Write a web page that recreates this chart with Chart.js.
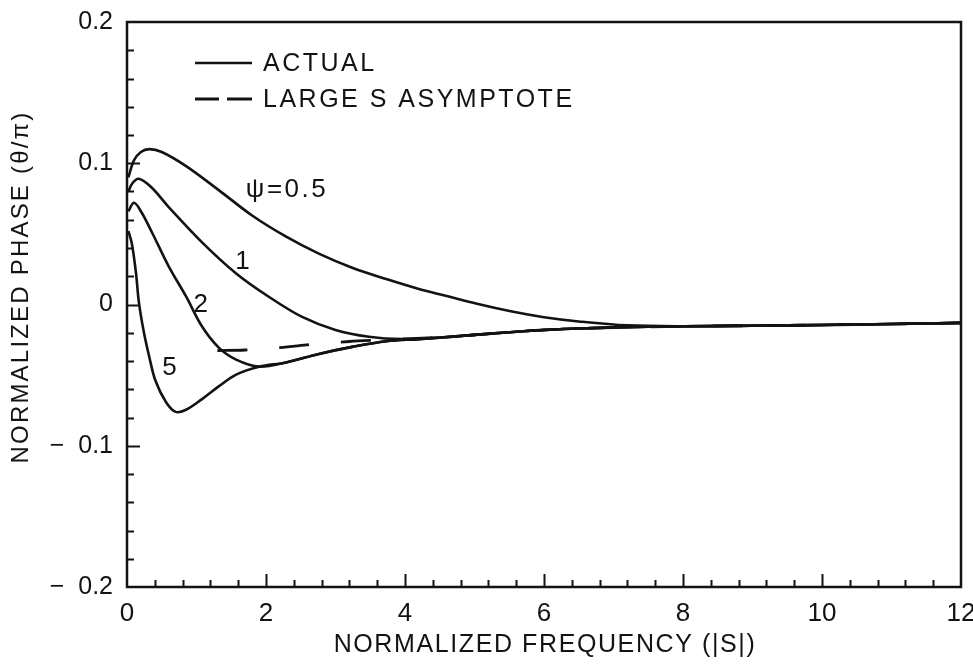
<!DOCTYPE html>
<html>
<head>
<meta charset="utf-8">
<title>Normalized phase vs normalized frequency</title>
<script src="https://cdn.jsdelivr.net/npm/chart.js@4.4.1/dist/chart.umd.min.js"></script>
<style>
  html, body { margin: 0; padding: 0; background: #ffffff; }
  #wrap { width: 973px; height: 665px; }
</style>
</head>
<body>
<div id="wrap"><canvas id="phaseChart" width="973" height="665"></canvas></div>
<script>
// Normalized frequency |S| and normalized phase θ/π for each ψ
const freqPsi05 = [0.02, 0.1, 0.2, 0.32, 0.5, 0.85, 1.32, 1.8, 2.29, 2.76, 3.24, 3.73, 4.2, 4.6, 5.0, 5.54, 6.0, 6.5, 7.2, 8, 9, 10, 11, 12];
const phasePsi05 = [0.090, 0.102, 0.108, 0.110, 0.108, 0.098, 0.081, 0.063, 0.048, 0.036, 0.026, 0.018, 0.011, 0.006, 0.001, -0.005, -0.009, -0.012, -0.0148, -0.0154, -0.015, -0.0145, -0.0138, -0.013];

const freqPsi1 = [0.02, 0.08, 0.17, 0.35, 0.6, 1.08, 1.57, 2.04, 2.52, 3.0, 3.48, 3.96, 4.5, 5, 6, 7, 8, 9, 10, 11, 12];
const phasePsi1 = [0.080, 0.086, 0.089, 0.083, 0.069, 0.044, 0.022, 0.0055, -0.0088, -0.0180, -0.0228, -0.0245, -0.0235, -0.0215, -0.018, -0.0163, -0.0154, -0.015, -0.0145, -0.0138, -0.013];

const freqPsi2 = [0.02, 0.1, 0.2, 0.36, 0.6, 0.85, 1.08, 1.32, 1.57, 1.9, 2.29, 2.76, 3.24, 3.73, 4.2, 5, 6, 7, 8, 9, 10, 11, 12];
const phasePsi2 = [0.066, 0.072, 0.066, 0.051, 0.027, 0.0057, -0.0156, -0.0305, -0.039, -0.044, -0.041, -0.035, -0.030, -0.026, -0.0245, -0.0215, -0.018, -0.0163, -0.0154, -0.015, -0.0145, -0.0138, -0.013];

const freqPsi5 = [0.02, 0.07, 0.13, 0.17, 0.24, 0.32, 0.41, 0.56, 0.7, 0.85, 1.08, 1.32, 1.57, 1.9, 2.29, 2.76, 3.24, 3.73, 4.2, 5, 6, 7, 8, 9, 10, 11, 12];
const phasePsi5 = [0.052, 0.043, 0.022, 0.002, -0.019, -0.037, -0.054, -0.069, -0.076, -0.0745, -0.067, -0.058, -0.0496, -0.044, -0.041, -0.035, -0.030, -0.026, -0.0245, -0.0215, -0.018, -0.0163, -0.0154, -0.015, -0.0145, -0.0138, -0.013];

// Large-S asymptote
const freqAsym = [1.3, 1.7, 2.2, 2.7, 3.2, 3.6, 4.0, 4.5, 5, 6, 7, 8, 9, 10, 11, 12];
const phaseAsym = [-0.0326, -0.0322, -0.0305, -0.028, -0.0262, -0.0252, -0.0243, -0.0233, -0.0215, -0.018, -0.0163, -0.0154, -0.015, -0.0145, -0.0138, -0.013];

// Axis ticks and labels
const xTickValues = [0, 2, 4, 6, 8, 10, 12];
const xTickLabels = ['0', '2', '4', '6', '8', '10', '12'];
const yTickValues = [-0.2, -0.1, 0, 0.1, 0.2];
const yTickLabels = ['\u2212  0.2', '\u2212  0.1', '0', '0.1', '0.2'];

// Curve annotations: text and anchor in data units
const curveLabels = ['\u03C8=0.5', '1', '2', '5'];
const curveLabelFreq = [1.71, 1.68, 1.08, 0.63];
const curveLabelPhase = [0.0815, 0.0305, -0.0005, -0.0447];

const legendTexts = ['ACTUAL', 'LARGE S ASYMPTOTE'];

const INK = '#141212';
const FONT = '"Liberation Sans", Arial, sans-serif';

const toPoints = (xs, ys) => xs.map((x, i) => ({ x: x, y: ys[i] }));

const solidStyle = { borderColor: INK, borderWidth: 2.6, pointRadius: 0, fill: false, tension: 0.35 };

const datasets = [
  Object.assign({ label: 'asymptote', data: toPoints(freqAsym, phaseAsym), borderDash: [30, 32] }, solidStyle, { borderWidth: 2.8 }),
  Object.assign({ label: 'psi 0.5', data: toPoints(freqPsi05, phasePsi05) }, solidStyle),
  Object.assign({ label: 'psi 1', data: toPoints(freqPsi1, phasePsi1) }, solidStyle),
  Object.assign({ label: 'psi 2', data: toPoints(freqPsi2, phasePsi2) }, solidStyle),
  Object.assign({ label: 'psi 5', data: toPoints(freqPsi5, phasePsi5) }, solidStyle)
];

// Frame, inward tick marks, axis titles, curve labels and legend
const decorations = {
  id: 'decorations',
  beforeDatasetsDraw(chart) {
    const { ctx, chartArea: a, scales } = chart;
    const xs = scales.x, ys = scales.y;
    ctx.save();
    ctx.strokeStyle = INK;
    ctx.lineWidth = 2;
    ctx.setLineDash([]);
    ctx.beginPath();
    for (let i = 1; i < 30; i++) {
      const px = Math.round(xs.getPixelForValue(i * 0.4)) + 0.5;
      const len = (i % 5 === 0) ? 13 : 7;
      ctx.moveTo(px, a.bottom);
      ctx.lineTo(px, a.bottom - len);
    }
    for (let i = -9; i < 10; i++) {
      const py = Math.round(ys.getPixelForValue(i * 0.02)) + 0.5;
      const len = (i % 5 === 0) ? 13 : 7;
      ctx.moveTo(a.left, py);
      ctx.lineTo(a.left + len, py);
    }
    ctx.stroke();
    ctx.lineWidth = 2.5;
    ctx.strokeRect(a.left, a.top, a.right - a.left, a.bottom - a.top);
    ctx.restore();
  },
  afterDatasetsDraw(chart) {
    const { ctx, chartArea: a, scales } = chart;
    const xs = scales.x, ys = scales.y;
    ctx.save();
    ctx.fillStyle = INK;
    ctx.textBaseline = 'middle';

    // curve annotations
    ctx.font = '26px ' + FONT;
    ctx.letterSpacing = '2.5px';
    curveLabels.forEach((t, i) => {
      const px = xs.getPixelForValue(curveLabelFreq[i]);
      const py = ys.getPixelForValue(curveLabelPhase[i]);
      ctx.textAlign = (i === 0) ? 'left' : 'center';
      ctx.fillText(t, px, py);
    });

    // legend
    const asym = chart.data.datasets[0];
    ctx.strokeStyle = INK;
    ctx.lineWidth = 2.4;
    ctx.beginPath();
    ctx.moveTo(195, 63); ctx.lineTo(252, 63);
    ctx.stroke();
    ctx.lineWidth = asym.borderWidth;
    ctx.beginPath();
    ctx.moveTo(195, 99); ctx.lineTo(219, 99);
    ctx.moveTo(227, 99); ctx.lineTo(252, 99);
    ctx.stroke();
    ctx.textAlign = 'left';
    ctx.font = '25px ' + FONT;
    ctx.letterSpacing = '2.5px';
    ctx.fillText(legendTexts[0], 263, 64);
    ctx.fillText(legendTexts[1], 263, 100);

    // axis titles
    ctx.font = '25px ' + FONT;
    ctx.letterSpacing = '1.6px';
    ctx.textAlign = 'center';
    ctx.fillText('NORMALIZED FREQUENCY (|S|)', (a.left + a.right) / 2 + 1, 645);
    ctx.translate(21, 287);
    ctx.rotate(-Math.PI / 2);
    ctx.font = '24px ' + FONT;
    ctx.letterSpacing = '2.2px';
    ctx.fillText('NORMALIZED PHASE (\u03B8/\u03C0)', 0, 0);
    ctx.restore();
  }
};

new Chart(document.getElementById('phaseChart'), {
  type: 'scatter',
  data: { datasets: datasets.map(d => Object.assign(d, { showLine: true })) },
  options: {
    responsive: false,
    animation: false,
    devicePixelRatio: 1,
    layout: { padding: { left: 0, top: 22, right: 12, bottom: 0 } },
    plugins: { legend: { display: false }, tooltip: { enabled: false } },
    scales: {
      x: {
        type: 'linear', min: 0, max: 12,
        grid: { display: false, drawTicks: false },
        border: { display: false },
        afterBuildTicks(scale) { scale.ticks = xTickValues.map(v => ({ value: v })); },
        afterFit(scale) { scale.height = 78; scale.paddingLeft = 0; scale.paddingRight = 0; },
        ticks: {
          color: INK, padding: 11, maxRotation: 0,
          font: { family: FONT, size: 26 },
          callback: (v) => xTickLabels[xTickValues.indexOf(v)]
        }
      },
      y: {
        type: 'linear', min: -0.2, max: 0.2,
        grid: { display: false, drawTicks: false },
        border: { display: false },
        afterBuildTicks(scale) { scale.ticks = yTickValues.map(v => ({ value: v })); },
        afterFit(scale) { scale.width = 127; scale.paddingTop = 0; scale.paddingBottom = 0; },
        ticks: {
          color: INK, padding: 14,
          font: { family: FONT, size: 25 },
          callback: (v) => yTickLabels[yTickValues.indexOf(v)]
        }
      }
    }
  },
  plugins: [decorations]
});
</script>
</body>
</html>
